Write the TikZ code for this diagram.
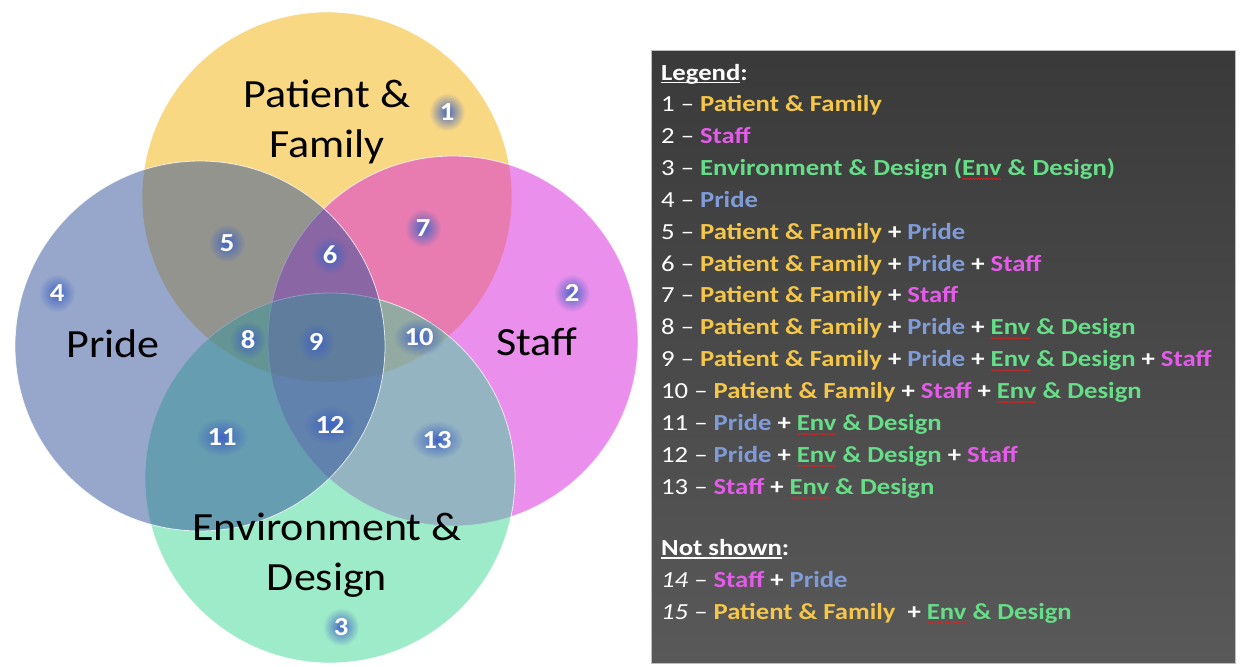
\documentclass[tikz,border=0pt]{standalone}
\usepackage{fontspec}
\setmainfont{Carlito}[FakeStretch=1.1]
\newfontfamily\legfont{Carlito}[FakeStretch=1.16]
\usetikzlibrary{fadings,decorations.pathmorphing}

% base colours of the four sets (painted at half opacity)
\definecolor{pfbase}{HTML}{F5B30B}
\definecolor{stbase}{HTML}{D921DD}
\definecolor{envbase}{HTML}{3FD997}
\definecolor{prbase}{HTML}{2F5199}
% legend text colours
\definecolor{cpf}{HTML}{F4C64A}
\definecolor{cst}{HTML}{E35BE8}
\definecolor{cenv}{HTML}{66DE88}
\definecolor{cpr}{HTML}{7F9CD8}
\definecolor{glowc}{HTML}{3E62C2}
\definecolor{squig}{HTML}{E02020}
\definecolor{frame}{HTML}{BDBDBD}
\definecolor{lgA}{HTML}{2A2A2A}
\definecolor{lgM}{HTML}{3C3C3C}
\definecolor{lgB}{HTML}{595959}
\definecolor{lgC}{HTML}{2A2A2A}

\pgfdeclareverticalshading{legendbg}{100bp}{color(0bp)=(lgA); color(17bp)=(lgM); color(25bp)=(lgB); color(100bp)=(lgC)}
\tikzfading[name=glowfade, inner color=transparent!0, outer color=transparent!100]

% thick underline
\newcommand\uln[1]{\setbox0=\hbox{#1}\rlap{\rule[-3pt]{\wd0}{1.4pt}}\box0\relax}
% red spell-check wave under a word
\newdimen\swd
\newcommand\spellwave[1]{\setbox0=\hbox{#1}\swd=\wd0\relax
  \rlap{\tikz[baseline=0pt,x=1pt,y=1pt]{\useasboundingbox (0,0);
    \draw[overlay,squig,line width=0.6pt,decorate,
          decoration={snake,amplitude=0.7pt,segment length=2.6pt}]
          (0,-3.5) -- (\the\swd,-3.5);}}\box0\relax}
\newcommand\PF{\textcolor{cpf}{\textbf{Patient \& Family}}}
\newcommand\ST{\textcolor{cst}{\textbf{Staff}}}
\newcommand\PR{\textcolor{cpr}{\textbf{Pride}}}
\newcommand\EN{\textcolor{cenv}{\textbf{\spellwave{Env} \& Design}}}
\newcommand\plus{ \textbf{+} }

\tikzset{
  venn/.style={fill opacity=0.5, draw=white, draw opacity=0.75, line width=0.8pt},
  biglabel/.style={align=center, text=black, font=\fontsize{40}{50}\selectfont, inner sep=0pt},
  num/.style={text=white, font=\fontsize{26}{26}\selectfont\bfseries, inner sep=0pt},
  glow/.style={glowc, fill opacity=0.95, path fading=glowfade},
  legrow/.style={anchor=base west, text=white, font=\legfont\fontsize{23}{26}\selectfont, inner sep=0pt},
}

\begin{document}
\begin{tikzpicture}[x=1pt,y=-1pt]
\useasboundingbox (0,0) rectangle (1243,667);

% the four sets
\fill[white] (0,0) rectangle (1243,667);
\filldraw[venn, fill=pfbase]  (327,197) circle (185);
\filldraw[venn, fill=stbase]  (453,341) circle (185);
\filldraw[venn, fill=envbase] (330,478) circle (185);
\filldraw[venn, fill=prbase]  (200,346) circle (185);

% set names
\node[biglabel] (lpf)  at (327,122) {Patient \&\\Family};
\node[biglabel] (lpr)  at (113,344) {Pride};
\node[biglabel] (lst)  at (537,342) {Staff};
\node[biglabel] (lenv) at (327,555) {Environment \&\\Design};

% region numbers with a soft halo
\foreach \n/\x/\y/\w in {1/447/112/18, 2/572/293/18, 3/341/627/18, 4/57/293/18, 5/227/243/18,
                      6/330/255/18, 7/423/228/18, 8/248/340/18, 9/316/342/18, 10/419/337/26,
                      11/222/437/26, 12/330/425/26, 13/437/440/26}{
  \fill[glow] (\x,\y) ellipse (\w pt and 19pt);
  \node[num] (n\n) at (\x,\y) {\n};
}

% legend panel
\shade[shading=legendbg] (651,50) rectangle (1235,663);
\draw[frame, line width=1pt] (651,50) rectangle (1235,663);

\node[legrow] (l0)  at (661,80)    {\textbf{\uln{Legend}:}};
\node[legrow] (l1)  at (661,111.5) {1 – \PF};
\node[legrow] (l2)  at (661,143.4) {2 – \ST};
\node[legrow] (l3)  at (661,175.3) {3 – \textcolor{cenv}{\textbf{Environment \& Design (\spellwave{Env} \& Design)}}};
\node[legrow] (l4)  at (661,207.2) {4 – \PR};
\node[legrow] (l5)  at (661,239.1) {5 – \PF\plus\PR};
\node[legrow] (l6)  at (661,271.0) {6 – \PF\plus\PR\plus\ST};
\node[legrow] (l7)  at (661,302.9) {7 – \PF\plus\ST};
\node[legrow] (l8)  at (661,334.8) {8 – \PF\plus\PR\plus\EN};
\node[legrow] (l9)  at (661,366.7) {9 – \PF\plus\PR\plus\EN\plus\ST};
\node[legrow] (l10) at (661,398.6) {10 – \PF\plus\ST\plus\EN};
\node[legrow] (l11) at (661,430.5) {11 – \PR\plus\EN};
\node[legrow] (l12) at (661,462.4) {12 – \PR\plus\EN\plus\ST};
\node[legrow] (l13) at (661,494.3) {13 – \ST\plus\EN};
\node[legrow] (l14) at (661,555.5) {\textbf{\uln{Not shown}:}};
\node[legrow] (l15) at (661,587.5) {\textit{14} – \ST\plus\PR};
\node[legrow] (l16) at (661,619.5) {\textit{15} – \PF\ \plus\EN};
\end{tikzpicture}
\end{document}
